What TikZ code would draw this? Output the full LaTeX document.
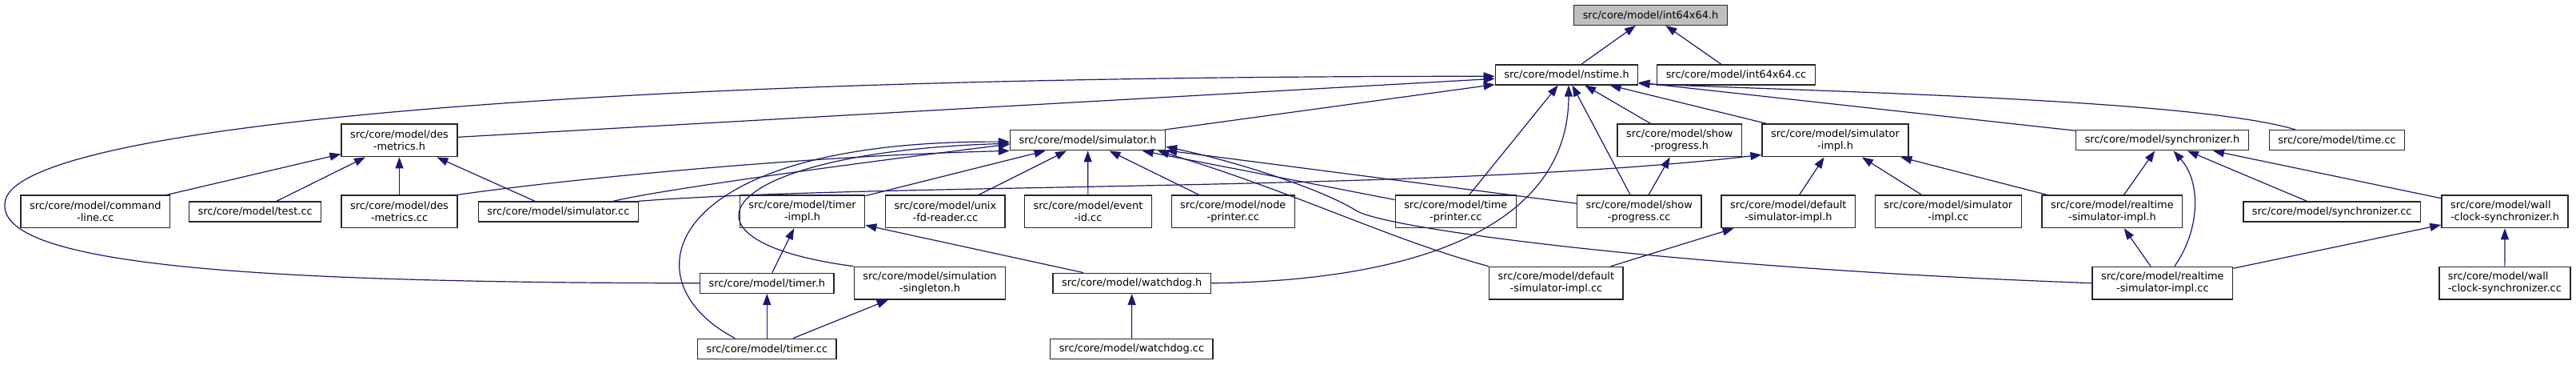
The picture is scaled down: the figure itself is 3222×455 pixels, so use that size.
\documentclass[tikz,border=0pt]{standalone}
\usepackage{fontspec}
\setmainfont{DejaVu Sans}
\usetikzlibrary{arrows.meta,calc}

\definecolor{edgeblue}{RGB}{25,25,112}
\definecolor{rootgray}{RGB}{191,191,191}

\begin{document}
\begin{tikzpicture}[x=0.5pt, y=-0.5pt, >={Triangle[length=7pt,width=5pt]},
  file/.style={draw=black!85, line width=0.7pt, fill=white, rectangle,
    inner xsep=5.5pt, inner ysep=0pt, minimum height=12.5pt,
    font=\fontsize{6.45}{7.5}\selectfont},
  file2/.style={file, align=center, minimum height=20.3pt},
  dep/.style={draw=edgeblue, line width=0.6pt, ->}
]
\useasboundingbox (0,0) rectangle (3222,455);

% the header and its direct includers
\node[file, fill=rootgray] (int64) at (2064.5,18.7) {src/core/model/int64x64.h};
\node[file] (nstime) at (1959.5,93.3) {src/core/model/nstime.h};
\node[file] (int64cc) at (2171.5,93.3) {src/core/model/int64x64.cc};

% second level
\node[file2] (desmetricsh) at (499.5,175.4) {src/core/model/des\\-metrics.h};
\node[file] (simulatorh) at (1360.5,175.2) {src/core/model/simulator.h};
\node[file2] (showprogressh) at (2100.7,175.4) {src/core/model/show\\-progress.h};
\node[file2] (simimplh) at (2295.5,175.4) {src/core/model/simulator\\-impl.h};
\node[file] (synchronizerh) at (2704.5,175.2) {src/core/model/synchronizer.h};
\node[file] (timecc) at (2923,175.2) {src/core/model/time.cc};

% third level
\node[file2] (commandlinecc) at (119.3,264.3) {src/core/model/command\\-line.cc};
\node[file] (testcc) at (319.2,264.5) {src/core/model/test.cc};
\node[file2] (desmetricscc) at (499.5,264.3) {src/core/model/des\\-metrics.cc};
\node[file] (simulatorcc) at (698.4,264.5) {src/core/model/simulator.cc};
\node[file2] (timerimplh) at (1003.5,264.3) {src/core/model/timer\\-impl.h};
\node[file2] (unixfdreadercc) at (1182.4,264.3) {src/core/model/unix\\-fd-reader.cc};
\node[file2] (eventidcc) at (1361,264.3) {src/core/model/event\\-id.cc};
\node[file2] (nodeprintercc) at (1542.3,264.3) {src/core/model/node\\-printer.cc};
\node[file2] (timeprintercc) at (1820.8,264.3) {src/core/model/time\\-printer.cc};
\node[file2] (showprogresscc) at (2050.2,264.3) {src/core/model/show\\-progress.cc};
\node[file2] (defsimimplh) at (2236.8,264.3) {src/core/model/default\\-simulator-impl.h};
\node[file2] (simimplcc) at (2436.8,264.3) {src/core/model/simulator\\-impl.cc};
\node[file2] (rtsimimplh) at (2641.9,264.3) {src/core/model/realtime\\-simulator-impl.h};
\node[file] (synchronizercc) at (2916.7,264.5) {src/core/model/synchronizer.cc};
\node[file2, align=left] (wallclockh) at (3133,264.3) {src/core/model/wall\\-clock-synchronizer.h};

% fourth level
\node[file] (timerh) at (959.3,353.8) {src/core/model/timer.h};
\node[file2] (simsingletonh) at (1163,353.7) {src/core/model/simulation\\-singleton.h};
\node[file] (watchdogh) at (1415.7,353.8) {src/core/model/watchdog.h};
\node[file2] (defsimimplcc) at (1946.4,353.7) {src/core/model/default\\-simulator-impl.cc};
\node[file2] (rtsimimplcc) at (2704.8,353.7) {src/core/model/realtime\\-simulator-impl.cc};
\node[file2, align=left] (wallclockcc) at (3132.8,353.7) {src/core/model/wall\\-clock-synchronizer.cc};

% bottom
\node[file] (timercc) at (959.3,435.7) {src/core/model/timer.cc};
\node[file] (watchdogcc) at (1415.4,435.7) {src/core/model/watchdog.cc};

% include edges, arrow at the included file
\draw[dep] (nstime) -- (int64);
\draw[dep] (int64cc) -- (int64);

\draw[dep] (desmetricsh) -- (nstime);
\draw[dep] (simulatorh) -- (nstime);
\draw[dep] (showprogressh) -- (nstime);
\draw[dep] (simimplh) -- (nstime);
\draw[dep] (synchronizerh) -- (nstime);
\draw[dep] (timeprintercc) -- (nstime);
\draw[dep] (showprogresscc) -- (nstime);
\draw[dep] ($(timecc.north)+(-52,0)$) .. controls (2750,125) and (2300,115) .. ($(nstime.south east)+(0,-2)$);
\draw[dep] (watchdogh.east) .. controls (1800,350) and (1962,270) .. ($(nstime.south)+(2.5,0)$);
% timer.h goes the long way round the left side
\draw[dep] (timerh.west) .. controls (350,353) and (0,335) .. (6,255)
  .. controls (6,160) and (700,95) .. ($(nstime.west)+(0,2)$);

\draw[dep] (commandlinecc) -- (desmetricsh);
\draw[dep] (testcc) -- (desmetricsh);
\draw[dep] (desmetricscc) -- (desmetricsh);
\draw[dep] (simulatorcc) -- (desmetricsh);

\draw[dep] (desmetricscc.north east) .. controls (700,225) and (1000,195) .. (simulatorh.south west);
\draw[dep] ($(simulatorcc.north east)+(-32,0)$) .. controls (830,236) and (1100,200) .. ($(simulatorh.west)+(0,5)$);
\draw[dep] ($(timercc.north)+(-40,0)$) .. controls (780,350) and (830,175) .. ($(simulatorh.west)+(0,2)$);
\draw[dep] (simsingletonh.north west) .. controls (820,300) and (900,190) .. ($(simulatorh.west)+(0,4)$);
\draw[dep] (timerimplh) -- (simulatorh);
\draw[dep] (unixfdreadercc) -- (simulatorh);
\draw[dep] (eventidcc) -- (simulatorh);
\draw[dep] (nodeprintercc) -- (simulatorh);
\draw[dep] (timeprintercc) -- (simulatorh);
\draw[dep] (showprogresscc) -- (simulatorh);
\draw[dep] (defsimimplcc.north west) .. controls (1740,300) and (1620,240) .. ($(simulatorh.south east)+(-10,0)$);
\draw[dep] (rtsimimplcc.west) .. controls (2100,335) and (1732,286) .. (1696,263)
  .. controls (1660,240) and (1560,205) .. ($(simulatorh.east)+(0,8)$);

\draw[dep] (showprogresscc) -- (showprogressh);

\draw[dep] (simulatorcc.north east) .. controls (1100,228) and (1800,240) .. ($(simimplh.south west)+(0,-3)$);
\draw[dep] (defsimimplh) -- (simimplh);
\draw[dep] (simimplcc) -- (simimplh);
\draw[dep] (rtsimimplh) -- (simimplh);

\draw[dep] (rtsimimplh) -- (synchronizerh);
\draw[dep] ($(rtsimimplcc.north)+(15,0)$) .. controls (2750,290) and (2755,230) .. ($(synchronizerh.south)+(14,0)$);
\draw[dep] (synchronizercc) -- (synchronizerh);
\draw[dep] (wallclockh) -- (synchronizerh);

\draw[dep] (defsimimplcc) -- (defsimimplh);
\draw[dep] (rtsimimplcc) -- (rtsimimplh);
\draw[dep] (rtsimimplcc) -- (wallclockh);
\draw[dep] (wallclockcc) -- (wallclockh);

\draw[dep] (timerh) -- (timerimplh);
\draw[dep] (watchdogh) -- (timerimplh);
\draw[dep] (timercc) -- (timerh);
\draw[dep] (timercc) -- (simsingletonh);
\draw[dep] (watchdogcc) -- (watchdogh);
\end{tikzpicture}
\end{document}
